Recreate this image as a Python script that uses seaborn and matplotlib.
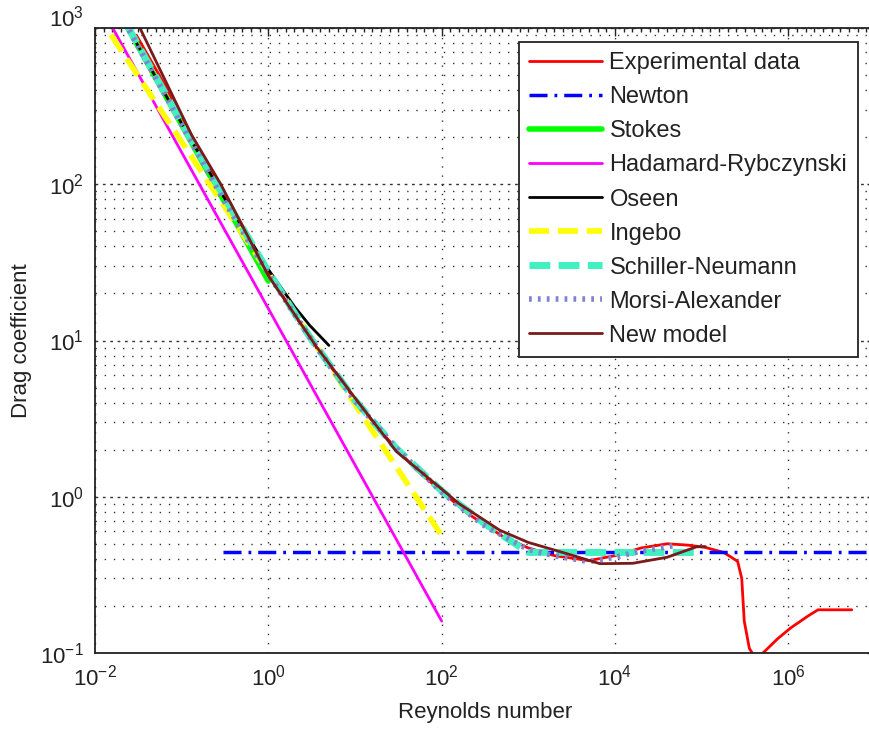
import numpy as np
import pandas as pd
import matplotlib
matplotlib.use("Agg")
import matplotlib.pyplot as plt
import matplotlib.transforms as mtransforms
from matplotlib.ticker import FixedLocator, LogLocator, LogFormatterMathtext, NullFormatter
import seaborn as sns

# ---------------- data ----------------
exp_re = [0.03, 0.06, 0.13, 0.3, 1, 3, 10, 20, 50, 100, 200, 500, 1000, 2000, 5000,
          1e4, 2e4, 4e4, 7e4, 1.1e5, 1.8e5, 2.6e5, 2.9e5, 3.1e5, 3.55e5, 4.3e5, 5.1e5,
          7.6e5, 1.07e6, 1.7e6, 2.2e6, 5.4e6]
exp_cd = [900, 460, 205, 92, 27, 10.3, 4.2, 2.6, 1.5, 1.08, 0.78, 0.56, 0.47, 0.42, 0.39,
          0.42, 0.47, 0.50, 0.49, 0.474, 0.44, 0.386, 0.30, 0.16, 0.107, 0.09, 0.10,
          0.124, 0.145, 0.173, 0.189, 0.189]

newton_re = [0.3, 1e7]
newton_cd = [0.44, 0.44]

stokes_re = [0.01, 1.0]
stokes_cd = [2400, 24]

hr_re = [0.01, 100]
hr_cd = [1600, 0.16]

oseen_re = [0.01, 0.03, 0.1, 0.3, 1, 2, 3, 5]
oseen_cd = [2404.5, 804.5, 244.5, 84.5, 28.5, 16.5, 12.5, 9.3]

ingebo_re = [0.01, 100]
ingebo_cd = [1293, 0.564]

sn_re = [0.01, 0.1, 0.3, 1, 3, 10, 30, 100, 300, 1000, 1e5]
sn_cd = [2415, 247.4, 85.2, 27.6, 10.55, 4.15, 2.04, 1.09, 0.684, 0.44, 0.44]

ma_re = [0.01, 0.1, 0.3, 1, 3, 10, 30, 100, 300, 1000, 2000, 5000, 1e4, 2e4, 5e4]
ma_cd = [2400, 240, 80.5, 26.5, 10.51, 4.10, 2.04, 1.07, 0.661, 0.459, 0.419, 0.385,
         0.41, 0.4495, 0.488]

new_re = [0.033, 0.13, 0.28, 1.0, 3.6, 11, 30, 100, 160, 470, 1000, 2750, 6700,
          1.6e4, 4e4, 8.7e4, 1.1e5]
new_cd = [1000, 207, 101, 26, 9.1, 4.0, 1.95, 1.12, 0.9, 0.61, 0.51, 0.433, 0.373,
          0.375, 0.41, 0.478, 0.48]

x_major = [1e-2, 1e0, 1e2, 1e4, 1e6]

# ---------------- style ----------------
sns.set_style("white")
plt.rcParams['font.family'] = ['Liberation Sans', 'DejaVu Sans']
plt.rcParams['mathtext.fontset'] = 'custom'
plt.rcParams['mathtext.rm'] = 'Liberation Sans'
plt.rcParams['mathtext.it'] = 'Liberation Sans:italic'
plt.rcParams['mathtext.bf'] = 'Liberation Sans:bold'
plt.rcParams['axes.unicode_minus'] = False

fig = plt.figure(figsize=(8.69, 7.29), dpi=100)
ax = fig.add_axes([95 / 869, 76 / 729, 780 / 869, 625 / 729])

series = [
    ("Experimental data", exp_re, exp_cd, dict(color="#ff0000", lw=2.0, ls="-")),
    ("Newton", newton_re, newton_cd, dict(color="#0000ff", lw=2.5, ls=(0, (5.2, 2.0, 0.8, 2.0)))),
    ("Stokes", stokes_re, stokes_cd, dict(color="#00ff00", lw=4.0, ls="-")),
    ("Hadamard-Rybczynski", hr_re, hr_cd, dict(color="#ff00ff", lw=2.0, ls="-")),
    ("Oseen", oseen_re, oseen_cd, dict(color="#000000", lw=2.0, ls="-")),
    ("Ingebo", ingebo_re, ingebo_cd, dict(color="#ffff00", lw=4.0, ls=(0, (3.6, 1.6)))),
    ("Schiller-Neumann", sn_re, sn_cd, dict(color="#40f0c0", lw=5.0, ls=(0, (3.0, 1.2)))),
    ("Morsi-Alexander", ma_re, ma_cd, dict(color="#8282d2", lw=4.0, ls=(0, (0.5, 1.1)))),
    ("New model", new_re, new_cd, dict(color="#7a1a1a", lw=2.0, ls="-")),
]

for name, xs, ys, st in series:
    df = pd.DataFrame({"Re": xs, "Cd": ys})
    sns.lineplot(data=df, x="Re", y="Cd", ax=ax, sort=False, estimator=None,
                 color=st["color"], linewidth=st["lw"], linestyle=st["ls"], label=name)

ax.set_xscale("log")
ax.set_yscale("log")
ax.set_xlim(1e-2, 1e7)
ax.set_ylim(1e-1, 1e3)

ax.xaxis.set_major_locator(FixedLocator(x_major))
ax.xaxis.set_minor_locator(FixedLocator([10 ** (k / 10) for k in range(-20, 71)]))
ax.xaxis.set_major_formatter(LogFormatterMathtext())
ax.xaxis.set_minor_formatter(NullFormatter())
ax.yaxis.set_major_locator(LogLocator(base=10, numticks=10))
ax.yaxis.set_minor_locator(LogLocator(base=10, subs=np.arange(2, 10), numticks=20))
ax.yaxis.set_minor_formatter(NullFormatter())

# grid
ax.grid(False)
ax.yaxis.grid(True, which="major", color="#333333", lw=1.0, ls=(0, (2.0, 3.3)))
ax.yaxis.grid(True, which="minor", color="#333333", lw=1.0, ls=(0, (1.0, 5.6)))
ax.xaxis.grid(True, which="major", color="#333333", lw=1.0, ls=(0, (1.0, 5.6)))
ax.xaxis.grid(False, which="minor")
ax.set_axisbelow(True)

ax.tick_params(which="both", direction="in", top=True, right=True, width=1.0,
               colors="#222222", labelcolor="#222222")
ax.tick_params(which="major", length=6, labelsize=16, pad=8)
ax.tick_params(which="minor", length=3)
for sp in ax.spines.values():
    sp.set_color("#222222")
    sp.set_linewidth(1.3)

ax.set_xlabel("Reynolds number", fontsize=16, color="#222222")
ax.set_ylabel("Drag coefficient", fontsize=16, color="#222222")
ax.xaxis.set_label_coords(0.5, -0.078)
ax.yaxis.set_label_coords(-0.081, 0.5)

leg = ax.legend(loc="upper right", bbox_to_anchor=(0.978, 0.978), borderaxespad=0,
                fontsize=17, handlelength=3.1, handletextpad=0.3, labelspacing=0.51,
                frameon=True, fancybox=False, framealpha=1, edgecolor="#222222",
                borderpad=0.45)
leg.get_frame().set_linewidth(1.3)
for t in leg.get_texts():
    t.set_color("#222222")

# top y tick label sits a little higher in the reference
fig.canvas.draw()
for tick in ax.yaxis.get_major_ticks():
    if np.isclose(tick.get_loc(), 1e3):
        lbl = tick.label1
        lbl.set_transform(lbl.get_transform() +
                          mtransforms.ScaledTranslation(0, 12 / 100, fig.dpi_scale_trans))

fig.savefig("out.png", dpi=100)
